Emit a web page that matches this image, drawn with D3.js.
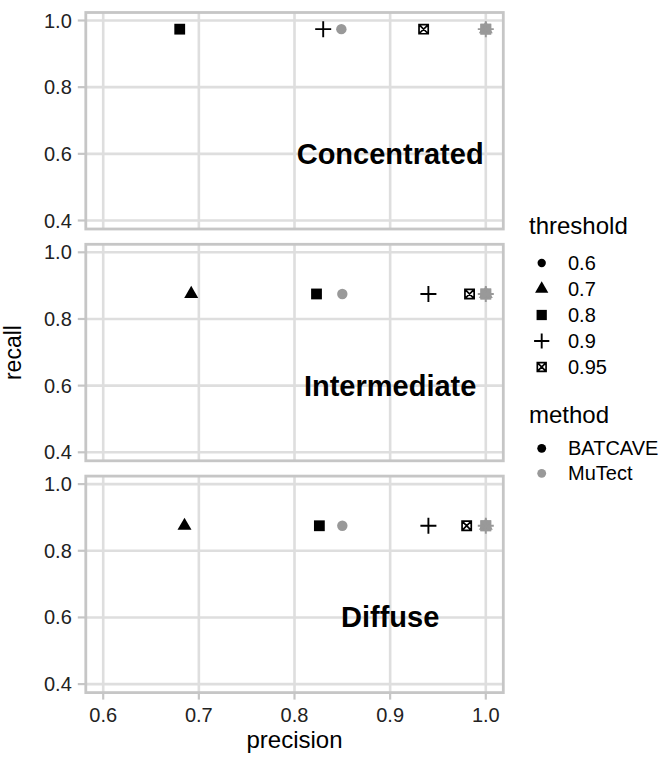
<!DOCTYPE html>
<html>
<head>
<meta charset="utf-8">
<script src="https://cdn.jsdelivr.net/npm/d3@7"></script>
<style>
  body { margin: 0; background: #fff; }
  text { font-family: "Liberation Sans", Arial, Helvetica, sans-serif; }
</style>
</head>
<body>
<div id="chart"></div>
<script>
// data
const panelNames = ["Concentrated", "Intermediate", "Diffuse"];
const thresholds = ["0.6", "0.7", "0.8", "0.9", "0.95"];
const methods = ["BATCAVE", "MuTect"];
const recallByPanel = [0.974, 0.875, 0.875];
// precision per threshold, null = outside the shown range
const batcaveConcentrated = [null, null, 0.680, 0.830, 0.935];
const batcaveIntermediate = [null, 0.692, 0.823, 0.940, 0.983];
const batcaveDiffuse = [null, 0.685, 0.826, 0.940, 0.980];
const mutectConcentrated = [0.849, 1.0, 1.0, 1.0, 1.0];
const mutectIntermediate = [0.850, 1.0, 1.0, 1.0, 1.0];
const mutectDiffuse = [0.850, 1.0, 1.0, 1.0, 1.0];
const xTicks = [0.6, 0.7, 0.8, 0.9, 1.0];
const yTicks = [0.4, 0.6, 0.8, 1.0];

const batcave = [batcaveConcentrated, batcaveIntermediate, batcaveDiffuse];
const mutect = [mutectConcentrated, mutectIntermediate, mutectDiffuse];

// layout
const W = 660, H = 757;
const panelLeft = 85.8, panelRight = 503.3;
const panelTops = [12.5, 244.3, 476.1];
const panelH = 216.5;
const borderCol = "#c6c6c6", gridCol = "#dedede";
const tickText = 20;

const svg = d3.select("#chart").append("svg")
  .attr("width", W).attr("height", H);

const x = d3.scaleLinear().domain([0.5818, 1.0183]).range([panelLeft, panelRight]);
const colour = d3.scaleOrdinal().domain(methods).range(["#000000", "#999999"]);

// shapes like R pch 16, 17, 15, 3, 7
function drawShape(g, shape, cx, cy, col, s) {
  s = s || 1;
  if (shape === "0.6") {
    g.append("circle").attr("cx", cx).attr("cy", cy).attr("r", 5.2 * s).attr("fill", col);
  } else if (shape === "0.7") {
    const r = 8.1 * s, xc = 7 * s, yc = 4.05 * s;
    g.append("path")
      .attr("d", `M${cx},${cy - r}L${cx + xc},${cy + yc}L${cx - xc},${cy + yc}Z`)
      .attr("fill", col);
  } else if (shape === "0.8") {
    const h = 5.4 * s;
    g.append("rect").attr("x", cx - h).attr("y", cy - h)
      .attr("width", 2 * h).attr("height", 2 * h).attr("fill", col);
  } else if (shape === "0.9") {
    const a = 8 * s;
    g.append("path")
      .attr("d", `M${cx - a},${cy}H${cx + a}M${cx},${cy - a}V${cy + a}`)
      .attr("stroke", col).attr("stroke-width", 1.9).attr("fill", "none");
  } else {
    const h = 4.6 * s;
    g.append("path")
      .attr("d", `M${cx - h},${cy - h}H${cx + h}V${cy + h}H${cx - h}Z` +
        `M${cx - h},${cy - h}L${cx + h},${cy + h}M${cx + h},${cy - h}L${cx - h},${cy + h}`)
      .attr("stroke", col).attr("stroke-width", 1.7).attr("fill", "none");
  }
}

panelNames.forEach((name, p) => {
  const top = panelTops[p];
  const y = d3.scaleLinear().domain([0.3745, 1.024]).range([top + panelH, top]);
  const g = svg.append("g");

  // grid
  g.selectAll(".gy").data(yTicks).enter().append("line")
    .attr("x1", panelLeft).attr("x2", panelRight)
    .attr("y1", d => y(d)).attr("y2", d => y(d))
    .attr("stroke", gridCol).attr("stroke-width", 2.6);
  g.selectAll(".gx").data(xTicks).enter().append("line")
    .attr("x1", d => x(d)).attr("x2", d => x(d))
    .attr("y1", top).attr("y2", top + panelH)
    .attr("stroke", gridCol).attr("stroke-width", 2.6);

  // y axis ticks and labels
  g.selectAll(".ty").data(yTicks).enter().append("line")
    .attr("x1", panelLeft - 8).attr("x2", panelLeft)
    .attr("y1", d => y(d)).attr("y2", d => y(d))
    .attr("stroke", borderCol).attr("stroke-width", 2.2);
  g.selectAll(".ly").data(yTicks).enter().append("text")
    .attr("x", panelLeft - 14).attr("y", d => y(d))
    .attr("text-anchor", "end").attr("dominant-baseline", "central")
    .attr("font-size", tickText).attr("fill", "#222222")
    .text(d3.format(".1f"));

  // annotation
  g.append("text")
    .attr("x", x(0.9)).attr("y", y(0.6))
    .attr("text-anchor", "middle").attr("dominant-baseline", "central")
    .attr("font-size", 29).attr("font-weight", "bold").attr("fill", "#000")
    .text(name);

  // points
  const pts = g.append("g");
  methods.forEach((m, mi) => {
    const vals = mi === 0 ? batcave[p] : mutect[p];
    vals.forEach((v, ti) => {
      if (v === null) return;
      drawShape(pts, thresholds[ti], x(v), y(recallByPanel[p]), colour(m));
    });
  });

  // border
  g.append("rect")
    .attr("x", panelLeft).attr("y", top)
    .attr("width", panelRight - panelLeft).attr("height", panelH)
    .attr("fill", "none").attr("stroke", borderCol).attr("stroke-width", 2.8);
});

// x axis at bottom panel
const bottom = panelTops[2] + panelH;
svg.selectAll(".tx").data(xTicks).enter().append("line")
  .attr("x1", d => x(d)).attr("x2", d => x(d))
  .attr("y1", bottom).attr("y2", bottom + 7)
  .attr("stroke", borderCol).attr("stroke-width", 2.2);
svg.selectAll(".lx").data(xTicks).enter().append("text")
  .attr("x", d => x(d)).attr("y", bottom + 29)
  .attr("text-anchor", "middle")
  .attr("font-size", tickText).attr("fill", "#222222")
  .text(d3.format(".1f"));

// axis titles
svg.append("text")
  .attr("x", (panelLeft + panelRight) / 2).attr("y", 748)
  .attr("text-anchor", "middle").attr("font-size", 24).attr("fill", "#000")
  .text("precision");
svg.append("text")
  .attr("transform", `translate(21,${(panelTops[0] + bottom) / 2}) rotate(-90)`)
  .attr("text-anchor", "middle").attr("font-size", 23).attr("fill", "#000")
  .text("recall");

// legends
const leg = svg.append("g");
leg.append("text").attr("x", 529).attr("y", 234)
  .attr("font-size", 24).attr("fill", "#000").text("threshold");
thresholds.forEach((t, i) => {
  const cy = 263 + i * 26;
  drawShape(leg, t, 541.7, cy, "#000", t === "0.6" ? 0.8 : 0.95);
  leg.append("text").attr("x", 568).attr("y", cy)
    .attr("dominant-baseline", "central")
    .attr("font-size", tickText).attr("fill", "#000").text(t);
});
leg.append("text").attr("x", 529).attr("y", 422.5)
  .attr("font-size", 24).attr("fill", "#000").text("method");
methods.forEach((m, i) => {
  const cy = 448.3 + i * 25;
  drawShape(leg, "0.6", 541.7, cy, colour(m), 0.85);
  leg.append("text").attr("x", 568).attr("y", cy)
    .attr("dominant-baseline", "central")
    .attr("font-size", tickText).attr("fill", "#000").text(m);
});
</script>
</body>
</html>
